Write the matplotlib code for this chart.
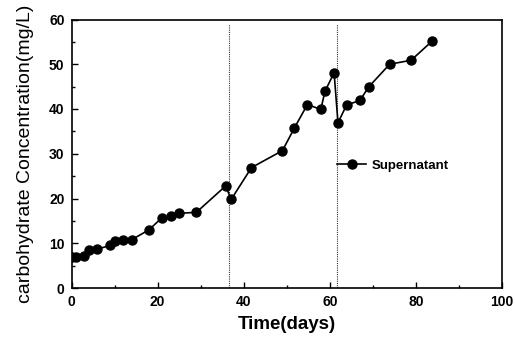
import matplotlib
matplotlib.use("Agg")
import matplotlib.pyplot as plt
from matplotlib.ticker import MultipleLocator

# sampling days and carbohydrate concentration (mg/L)
days = [0, 1, 3, 4, 6, 9, 10, 12, 14, 18, 21, 23, 25, 29, 35.8, 37.1, 41.8,
        49, 51.8, 54.8, 57.9, 58.9, 61, 61.9, 63.9, 67, 69, 73.9, 78.9, 83.8]
conc = [7, 7, 7.2, 8.4, 8.7, 9.5, 10.6, 10.7, 10.8, 13, 15.7, 16, 16.7, 16.9,
        22.8, 19.8, 26.9, 30.7, 35.8, 41, 39.9, 44, 48.1, 36.9, 40.9, 41.9,
        44.9, 50, 50.9, 55.2]
# stage boundaries
stages = [36.6, 61.6]

plt.rcParams['font.family'] = ['Liberation Sans', 'DejaVu Sans']

fig = plt.figure(figsize=(5.15, 3.43), dpi=100)
ax = fig.add_axes([71.5/515, 1 - 288/343, (502 - 71.5)/515, (288 - 19.5)/343])

for s in stages:
    ax.plot([s, s], [0, 59], color='#333333', lw=0.8, ls=(0, (1, 1)))

ax.plot(days, conc, color='black', marker='o', ms=6.5, lw=1.2, label='Supernatant')

ax.set_xlim(0, 100)
ax.set_ylim(0, 60)
ax.xaxis.set_major_locator(MultipleLocator(20))
ax.xaxis.set_minor_locator(MultipleLocator(10))
ax.yaxis.set_major_locator(MultipleLocator(10))
ax.yaxis.set_minor_locator(MultipleLocator(5))
ax.tick_params(which='both', direction='in', labelsize=10, width=1)
ax.tick_params(which='major', length=4, pad=5)
ax.tick_params(which='minor', length=2.5)
for lab in ax.get_xticklabels() + ax.get_yticklabels():
    lab.set_fontweight('bold')
for sp in ax.spines.values():
    sp.set_linewidth(1.2)

ax.set_xlabel('Time(days)', fontsize=13.5, fontweight='bold', labelpad=5)
ax.set_ylabel('carbohydrate Concentration(mg/L)', fontsize=14, labelpad=11)

ax.legend(loc='center left', bbox_to_anchor=(0.59, 0.455), frameon=False,
          handlelength=2.2, handletextpad=0.4,
          prop={'weight': 'bold', 'size': 9.5})

fig.savefig('out.png', dpi=100)
